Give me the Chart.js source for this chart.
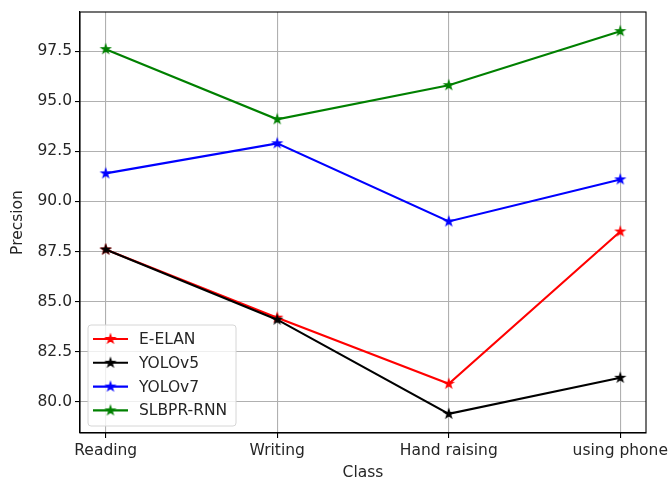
<!DOCTYPE html>
<html>
<head>
<meta charset="utf-8">
<script src="https://cdn.jsdelivr.net/npm/chart.js@4.4.0/dist/chart.umd.min.js"></script>
<style>
    html, body { margin: 0; padding: 0; background: #fff; }
    #wrap { width: 668px; height: 481px; }
</style>
</head>
<body>
<div id="wrap"><canvas id="chart" width="668" height="481"></canvas></div>
<script>
(function () {
    "use strict";

    var categories = ["Reading", "Writing", "Hand raising", "using phone"];
    var seriesNames = ["E-ELAN", "YOLOv5", "YOLOv7", "SLBPR-RNN"];
    var eelanValues = [87.6, 84.2, 80.9, 88.5];
    var yolov5Values = [87.6, 84.1, 79.4, 81.2];
    var yolov7Values = [91.4, 92.9, 89.0, 91.1];
    var slbprValues = [97.6, 94.1, 95.8, 98.5];
    var yTicks = [80, 82.5, 85, 87.5, 90, 92.5, 95, 97.5];

    var seriesValues = [eelanValues, yolov5Values, yolov7Values, slbprValues];
    var seriesColors = ["#ff0000", "#000000", "#0000ff", "#008000"];
    var fontFamily = "'DejaVu Sans', sans-serif";
    var fontSize = 15.5;
    var textColor = "#262626";

    Chart.defaults.color = textColor;
    Chart.defaults.font.family = fontFamily;
    Chart.defaults.font.size = fontSize;

    function starMarker(color) {
        var c = document.createElement("canvas");
        var ctx = c.getContext("2d");
        var outer = 4.4;
        var inner = outer * 0.381966;
        var i, r, a;

        c.width = 14;
        c.height = 14;
        ctx.beginPath();
        for (i = 0; i < 10; i++) {
            r = i % 2 === 0 ? outer : inner;
            a = -Math.PI / 2 + i * Math.PI / 5;
            if (i === 0) {
                ctx.moveTo(7 + r * Math.cos(a), 7 + r * Math.sin(a));
            } else {
                ctx.lineTo(7 + r * Math.cos(a), 7 + r * Math.sin(a));
            }
        }
        ctx.closePath();
        ctx.fillStyle = color;
        ctx.fill();
        ctx.lineWidth = 1.3;
        ctx.strokeStyle = color;
        ctx.stroke();
        return c;
    }

    // matplotlib style margins: 5% on y, 0.15 step on x
    var allValues = [].concat.apply([], seriesValues);
    var yMin = Math.min.apply(null, allValues);
    var yMax = Math.max.apply(null, allValues);
    var yPad = (yMax - yMin) * 0.05;

    var datasets = seriesNames.map(function (name, idx) {
        var marker = starMarker(seriesColors[idx]);
        return {
            label: name,
            data: seriesValues[idx].map(function (v, i) {
                return { x: i, y: v };
            }),
            borderColor: seriesColors[idx],
            backgroundColor: seriesColors[idx],
            borderWidth: 2.1,
            pointStyle: marker,
            pointRadius: 5,
            order: seriesNames.length - idx,
            tension: 0
        };
    });

    var frameAndLegend = {
        id: "frameAndLegend",
        afterDraw: function (chart) {
            var ctx = chart.ctx;
            var area = chart.chartArea;
            var bx = area.left + 8;
            var bw = 148;
            var bh = 101;
            var by = area.bottom - 7 - bh;
            var rad = 3;

            ctx.save();
            ctx.strokeStyle = "#000";
            ctx.lineWidth = 1.1;
            ctx.strokeRect(area.left, area.top, area.right - area.left, area.bottom - area.top);

            ctx.beginPath();
            ctx.moveTo(bx + rad, by);
            ctx.lineTo(bx + bw - rad, by);
            ctx.quadraticCurveTo(bx + bw, by, bx + bw, by + rad);
            ctx.lineTo(bx + bw, by + bh - rad);
            ctx.quadraticCurveTo(bx + bw, by + bh, bx + bw - rad, by + bh);
            ctx.lineTo(bx + rad, by + bh);
            ctx.quadraticCurveTo(bx, by + bh, bx, by + bh - rad);
            ctx.lineTo(bx, by + rad);
            ctx.quadraticCurveTo(bx, by, bx + rad, by);
            ctx.closePath();
            ctx.fillStyle = "rgba(255,255,255,0.8)";
            ctx.fill();
            ctx.strokeStyle = "#d6d6d6";
            ctx.lineWidth = 1;
            ctx.stroke();

            ctx.font = fontSize + "px " + fontFamily;
            ctx.textBaseline = "middle";
            ctx.textAlign = "left";
            chart.data.datasets.forEach(function (ds, i) {
                var ry = by + 14 + i * 23.8;
                ctx.strokeStyle = ds.borderColor;
                ctx.lineWidth = 2.1;
                ctx.beginPath();
                ctx.moveTo(bx + 5, ry);
                ctx.lineTo(bx + 40, ry);
                ctx.stroke();
                ctx.drawImage(ds.pointStyle, bx + 22.5 - 7, ry - 7);
                ctx.fillStyle = textColor;
                ctx.fillText(ds.label, bx + 51, ry + 1);
            });
            ctx.restore();
        }
    };

    new Chart(document.getElementById("chart").getContext("2d"), {
        type: "line",
        data: { datasets: datasets },
        options: {
            responsive: false,
            animation: false,
            events: [],
            layout: {
                padding: { top: 12, right: 22, left: 0, bottom: 0 }
            },
            plugins: {
                legend: { display: false },
                tooltip: { enabled: false }
            },
            scales: {
                x: {
                    type: "linear",
                    min: -0.15,
                    max: categories.length - 1 + 0.15,
                    afterBuildTicks: function (scale) {
                        scale.ticks = categories.map(function (c, i) {
                            return { value: i };
                        });
                    },
                    afterFit: function (scale) {
                        scale.height = 48;
                        scale.paddingLeft = 0;
                        scale.paddingRight = 0;
                    },
                    ticks: {
                        autoSkip: false,
                        maxRotation: 0,
                        padding: 4,
                        callback: function (v) {
                            return categories[v];
                        }
                    },
                    grid: {
                        color: "#b0b0b0",
                        lineWidth: 1.1,
                        tickColor: "#000",
                        tickWidth: 1.1,
                        tickLength: 5
                    },
                    border: { display: true, color: "#000", width: 1.1 },
                    title: {
                        display: true,
                        text: "Class",
                        font: { size: fontSize, lineHeight: 1 },
                        padding: 0
                    }
                },
                y: {
                    min: yMin - yPad,
                    max: yMax + yPad,
                    afterBuildTicks: function (scale) {
                        scale.ticks = yTicks.map(function (v) {
                            return { value: v };
                        });
                    },
                    afterFit: function (scale) {
                        scale.width = 80;
                        scale.paddingTop = 0;
                        scale.paddingBottom = 0;
                    },
                    ticks: {
                        padding: 3,
                        callback: function (v) {
                            return Number(v).toFixed(1);
                        }
                    },
                    grid: {
                        color: "#b0b0b0",
                        lineWidth: 1.1,
                        tickColor: "#000",
                        tickWidth: 1.1,
                        tickLength: 5
                    },
                    border: { display: true, color: "#000", width: 1.1 },
                    title: {
                        display: true,
                        text: "Precsion",
                        font: { size: fontSize, lineHeight: 1 },
                        padding: 10
                    }
                }
            }
        },
        plugins: [frameAndLegend]
    });
})();
</script>
</body>
</html>
